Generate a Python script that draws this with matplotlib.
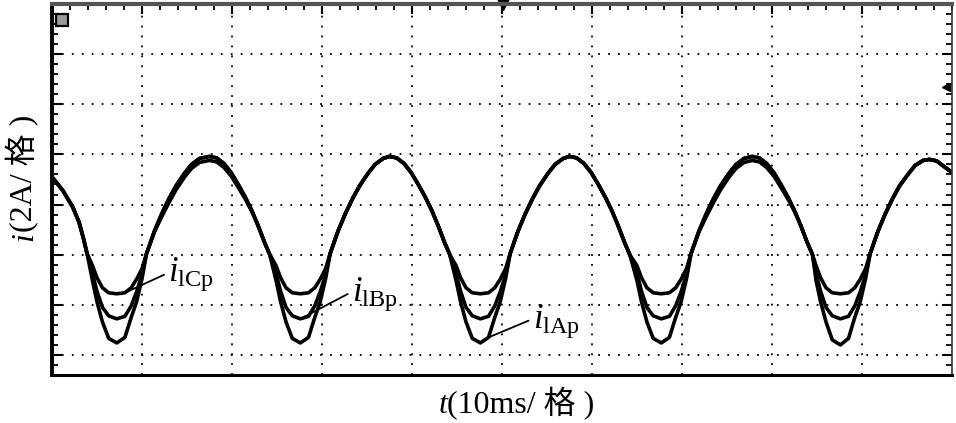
import matplotlib
matplotlib.use('Agg')
import numpy as np
import matplotlib.pyplot as plt

plt.rcParams['mathtext.fontset'] = 'custom'
plt.rcParams['mathtext.rm'] = 'Liberation Serif'
plt.rcParams['mathtext.it'] = 'Liberation Serif:italic'

# time in ms (10 ms per division), currents in divisions (2 A per division)
t_ms = [0.0, 1.2, 2.3, 3.0, 3.5, 3.9,
        4.5, 5.0, 5.6, 6.3, 7.2, 8.1, 8.8, 9.4, 10.0,
        10.5, 11.4, 12.2, 13.0, 13.8, 14.7, 15.5, 16.4, 17.5,
        18.3, 19.1, 19.9, 20.7, 21.5, 22.2, 22.9, 23.6, 24.2,
        24.9, 25.4, 26.0, 26.7, 27.6, 28.5, 29.2, 29.8, 30.4,
        30.9, 31.8, 32.6, 33.4, 34.2, 35.1, 35.9, 36.8, 37.5,
        38.3, 39.1, 39.9, 40.7, 41.5, 42.2, 42.9, 43.6, 44.2,
        44.9, 45.4, 46.0, 46.7, 47.6, 48.5, 49.2, 49.8, 50.4,
        50.9, 51.8, 52.6, 53.4, 54.2, 55.1, 55.9, 56.8, 57.5,
        58.3, 59.1, 59.9, 60.7, 61.5, 62.2, 62.9, 63.6, 64.2,
        65.0, 65.5, 66.1, 66.8, 67.7, 68.6, 69.3, 69.9, 70.5,
        71.0, 71.9, 72.7, 73.5, 74.3, 75.2, 76.0, 76.9, 77.8,
        78.6, 79.4, 80.2, 81.0, 81.8, 82.5, 83.2, 83.9, 84.5,
        84.9, 85.4, 86.0, 86.7, 87.6, 88.5, 89.2, 89.8, 90.4,
        90.9, 91.8, 92.6, 93.4, 94.2, 95.1, 95.9, 96.8, 97.5,
        98.3, 99.1, 100.0]

i_cp = [3.55, 3.28, 2.95, 2.65, 2.32, 2.02,
        1.78, 1.54, 1.34, 1.24, 1.22, 1.24, 1.34, 1.51, 1.72,
        2.02, 2.46, 2.76, 3.04, 3.30, 3.54, 3.72, 3.84, 3.88,
        3.85, 3.74, 3.57, 3.34, 3.10, 2.86, 2.58, 2.25, 2.00,
        1.78, 1.54, 1.34, 1.24, 1.22, 1.24, 1.34, 1.51, 1.72,
        2.02, 2.48, 2.82, 3.12, 3.38, 3.62, 3.80, 3.92, 3.96,
        3.93, 3.82, 3.64, 3.40, 3.14, 2.88, 2.58, 2.25, 2.00,
        1.78, 1.54, 1.34, 1.24, 1.22, 1.24, 1.34, 1.51, 1.72,
        2.02, 2.48, 2.82, 3.12, 3.38, 3.62, 3.80, 3.92, 3.96,
        3.93, 3.82, 3.64, 3.40, 3.14, 2.88, 2.58, 2.25, 2.00,
        1.78, 1.54, 1.34, 1.24, 1.22, 1.24, 1.34, 1.51, 1.72,
        2.02, 2.46, 2.76, 3.04, 3.30, 3.54, 3.72, 3.84, 3.88,
        3.85, 3.74, 3.57, 3.34, 3.10, 2.86, 2.58, 2.25, 2.00,
        1.78, 1.54, 1.34, 1.24, 1.22, 1.24, 1.34, 1.51, 1.72,
        2.02, 2.48, 2.82, 3.12, 3.38, 3.60, 3.78, 3.88, 3.90,
        3.87, 3.76, 3.64]

i_bp = [3.55, 3.28, 2.95, 2.65, 2.32, 2.02,
        1.62, 1.27, 0.95, 0.78, 0.72, 0.77, 0.98, 1.26, 1.60,
        2.02, 2.48, 2.82, 3.12, 3.38, 3.62, 3.80, 3.92, 3.96,
        3.93, 3.82, 3.64, 3.40, 3.14, 2.88, 2.58, 2.25, 2.00,
        1.62, 1.27, 0.95, 0.78, 0.72, 0.77, 0.98, 1.26, 1.60,
        2.02, 2.48, 2.82, 3.12, 3.38, 3.62, 3.80, 3.92, 3.96,
        3.93, 3.82, 3.64, 3.40, 3.14, 2.88, 2.58, 2.25, 2.00,
        1.62, 1.27, 0.95, 0.78, 0.72, 0.77, 0.98, 1.26, 1.60,
        2.02, 2.48, 2.82, 3.12, 3.38, 3.62, 3.80, 3.92, 3.96,
        3.93, 3.82, 3.64, 3.40, 3.14, 2.88, 2.58, 2.25, 2.00,
        1.62, 1.27, 0.95, 0.78, 0.72, 0.77, 0.98, 1.26, 1.60,
        2.02, 2.48, 2.82, 3.12, 3.38, 3.62, 3.80, 3.92, 3.96,
        3.93, 3.82, 3.64, 3.40, 3.14, 2.88, 2.58, 2.25, 2.00,
        1.62, 1.27, 0.95, 0.78, 0.72, 0.77, 0.98, 1.26, 1.60,
        2.02, 2.48, 2.82, 3.12, 3.38, 3.60, 3.78, 3.88, 3.90,
        3.87, 3.76, 3.64]

i_ap = [3.55, 3.28, 2.95, 2.65, 2.32, 2.02,
        1.48, 1.06, 0.66, 0.33, 0.24, 0.35, 0.75, 1.06, 1.52,
        2.02, 2.48, 2.82, 3.12, 3.38, 3.62, 3.80, 3.92, 3.96,
        3.93, 3.82, 3.64, 3.40, 3.14, 2.88, 2.58, 2.25, 2.00,
        1.48, 1.06, 0.66, 0.33, 0.24, 0.35, 0.75, 1.06, 1.52,
        2.02, 2.48, 2.82, 3.12, 3.38, 3.62, 3.80, 3.92, 3.96,
        3.93, 3.82, 3.64, 3.40, 3.14, 2.88, 2.58, 2.25, 2.00,
        1.48, 1.06, 0.66, 0.33, 0.24, 0.35, 0.75, 1.06, 1.52,
        2.02, 2.48, 2.82, 3.12, 3.38, 3.62, 3.80, 3.92, 3.96,
        3.93, 3.82, 3.64, 3.40, 3.14, 2.88, 2.58, 2.25, 2.00,
        1.48, 1.06, 0.66, 0.33, 0.24, 0.35, 0.75, 1.06, 1.52,
        2.02, 2.48, 2.82, 3.12, 3.38, 3.62, 3.80, 3.92, 3.96,
        3.93, 3.82, 3.64, 3.40, 3.14, 2.88, 2.58, 2.25, 2.00,
        1.48, 1.06, 0.66, 0.30, 0.20, 0.33, 0.75, 1.06, 1.52,
        2.02, 2.48, 2.82, 3.12, 3.38, 3.60, 3.78, 3.88, 3.90,
        3.87, 3.76, 3.64]

assert len(t_ms) == len(i_cp) == len(i_bp) == len(i_ap)

labels = [r'$i_{\rm lCp}$', r'$i_{\rm lBp}$', r'$i_{\rm lAp}$']

fig = plt.figure(figsize=(9.56, 4.23), dpi=100)
ax = fig.add_axes([52 / 956, 1 - 375 / 423, 900 / 956, 371 / 423])

for series in (i_ap, i_bp, i_cp):
    ax.plot(t_ms, series, color='black', lw=2.6, solid_joinstyle='round')

ax.set_xlim(0, 100)
ax.set_ylim(-0.4, 7.0)
ax.set_xticks(np.arange(10, 100, 10))
ax.set_yticks(np.arange(0, 7, 1))
ax.set_xticks(np.arange(0, 100.1, 2), minor=True)
ax.set_yticks(np.arange(-0.4, 7.01, 0.2), minor=True)
ax.grid(which='major', color='black', ls=(0, (1, 4.5)), lw=1.3)
ax.tick_params(which='both', direction='in', top=True, right=True, bottom=False,
               left=True, labelbottom=False, labelleft=False, color='black')
ax.tick_params(which='major', length=7, width=1.5)
ax.tick_params(which='minor', length=4, width=1.3)

ax.spines['left'].set_linewidth(2.8)
ax.spines['bottom'].set_linewidth(2.2)
ax.spines['top'].set_linewidth(3.0)
ax.spines['top'].set_color('#555555')
ax.spines['right'].set_linewidth(1.2)
ax.spines['right'].set_color('#333333')

# scope markers
ax.plot([0.011], [0.957], marker='s', ms=8, mfc='#999999', mec='black', mew=1.6,
        transform=ax.transAxes, clip_on=False)
ax.plot([0.501], [1.0], marker='v', ms=8, color='black', transform=ax.transAxes, clip_on=False)
ax.plot([0.993], [0.776], marker='<', ms=6, color='black', transform=ax.transAxes, clip_on=False)

# labels with leader lines
t_arr = np.array(t_ms)
ic = int(np.argmin(np.abs(t_arr - 8.1)))
ib = int(np.argmin(np.abs(t_arr - 27.6)))
ia = int(np.argmin(np.abs(t_arr - 48.5)))
targets = [(t_ms[ic], i_cp[ic]), (t_ms[ib], i_bp[ib]), (t_ms[ia], i_ap[ia])]
text_pos = [(12.9, 1.60), (33.3, 1.22), (53.4, 0.68)]
for lab, xy, xyt in zip(labels, targets, text_pos):
    ax.annotate(lab, xy=xy, xytext=xyt, textcoords='data', ha='left', va='center',
                fontsize=25,
                arrowprops=dict(arrowstyle='-', color='black', lw=1.3,
                                shrinkA=1, shrinkB=0, relpos=(0, 0.55)))

lab_font = ['Liberation Serif', 'Noto Sans CJK SC']
fig.text(447 / 956, 1 - 413 / 423, 't', style='italic', family='Liberation Serif',
         size=23, ha='right', va='baseline')
fig.text(447 / 956, 1 - 413 / 423, '(10ms/ 格 )', family=lab_font, size=23,
         ha='left', va='baseline')

fig.text(32 / 956, 1 - 232 / 423, 'i', style='italic', family='Liberation Serif',
         size=23, ha='right', va='baseline', rotation=90, rotation_mode='anchor')
fig.text(32 / 956, 1 - 232 / 423, '(2A/ 格 )', family=lab_font, size=23,
         ha='left', va='baseline', rotation=90, rotation_mode='anchor')

fig.savefig('out.png', dpi=100)
